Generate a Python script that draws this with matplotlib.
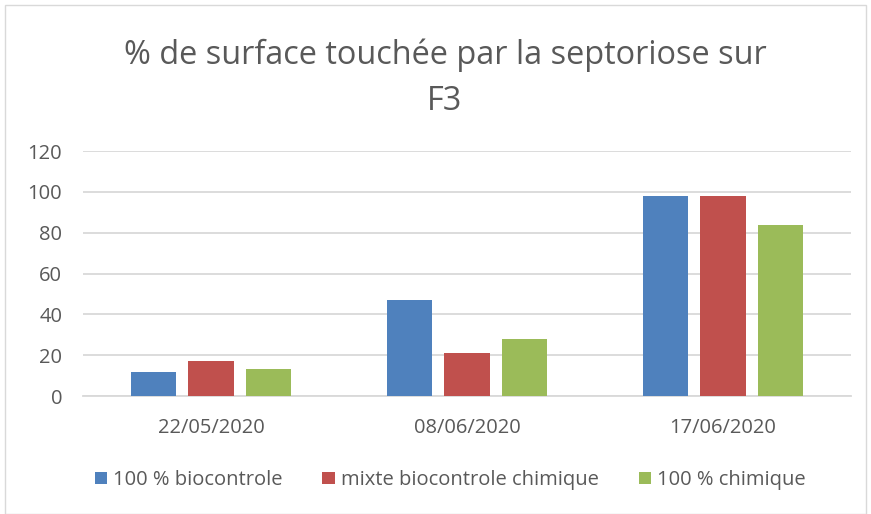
import matplotlib
matplotlib.use("Agg")
import matplotlib.pyplot as plt
import numpy as np
from matplotlib.patches import Rectangle

categories = ["22/05/2020", "08/06/2020", "17/06/2020"]
series_names = ["100 % biocontrole", "mixte biocontrole chimique", "100 % chimique"]
biocontrole = [12, 47, 98]
mixte = [17, 21, 98]
chimique = [13, 28, 84]
yticks = [0, 20, 40, 60, 80, 100, 120]
title = "% de surface touchée par la septoriose sur\nF3"

colors = ["#4f81bd", "#c0504d", "#9bbb59"]
text_color = "#595959"
grid_color = "#d9d9d9"

plt.rcParams['font.family'] = ['Open Sans', 'DejaVu Sans']

fig = plt.figure(figsize=(8.71, 5.14), dpi=100)
ax = fig.add_axes([83/871, 1-396/514, (851-83)/871, (396-151)/514])

x = np.arange(len(categories))
width = 0.176
step = 0.223
for i, (vals, name) in enumerate(zip([biocontrole, mixte, chimique], series_names)):
    ax.bar(x + (i-1)*step, vals, width, color=colors[i], label=name, zorder=3)

ax.set_xlim(-0.5, 2.5)
ax.set_ylim(0, 120)
ax.set_yticks(yticks)
ax.set_yticklabels([str(v) for v in yticks], color=text_color, fontsize=14.5)
ax.set_xticks(x)
ax.set_xticklabels(categories, color=text_color, fontsize=14.5)
ax.tick_params(axis='both', length=0)
ax.tick_params(axis='y', pad=15)
ax.tick_params(axis='x', pad=16)
ax.grid(axis='y', color=grid_color, linewidth=1.3, zorder=0)
for s in ['top', 'right', 'left']:
    ax.spines[s].set_visible(False)
ax.spines['bottom'].set_color(grid_color)
ax.spines['bottom'].set_linewidth(1.3)

fig.text(445/871, 1-78/514, title, ha='center', va='center', fontsize=23.4,
         color=text_color, linespacing=1.52)

handles, labels = ax.get_legend_handles_labels()
fig.legend(handles, labels, loc='center', bbox_to_anchor=(450/871, 1-480/514),
           ncol=3, frameon=False, fontsize=14.5, labelcolor=text_color,
           handlelength=0.6, handleheight=0.6, handletextpad=0.3, columnspacing=2.0)

fig.patches.append(Rectangle((5/871, 0), (866-5)/871, 1-5/514, transform=fig.transFigure,
                             fill=False, edgecolor="#d9d9d9", linewidth=1))

fig.savefig("out.png", dpi=100)
